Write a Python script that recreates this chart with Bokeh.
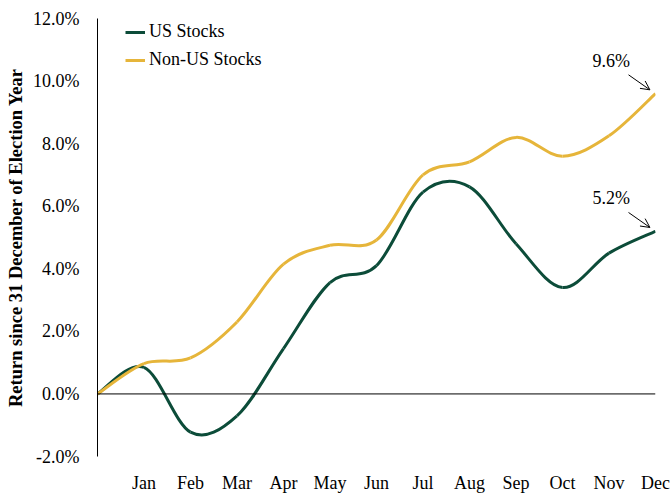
import numpy as np
from bokeh.plotting import figure
from bokeh.models import (ColumnDataSource, Span, Arrow, OpenHead, Label,
                          PrintfTickFormatter, FixedTicker, Range1d)
from bokeh.embed import file_html
from bokeh.resources import INLINE

# ---- data ----
months = ["Jan", "Feb", "Mar", "Apr", "May", "Jun", "Jul", "Aug", "Sep", "Oct", "Nov", "Dec"]
month_pos = list(range(0, 13))  # 0 = 31 December of election year
us_stocks = [0.0, 0.85, -1.22, -0.70, 1.45, 3.56, 4.10, 6.45, 6.62, 4.80, 3.40, 4.50, 5.20]
non_us_stocks = [0.0, 0.97, 1.15, 2.30, 4.15, 4.75, 4.92, 7.00, 7.42, 8.20, 7.60, 8.25, 9.60]
y_ticks = [-2, 0, 2, 4, 6, 8, 10, 12]

GREEN = "#0c4c39"
GOLD = "#e6b53a"
FONT = "Liberation Serif"


def smooth_source(xs, ys):
    """Bezier segments (Catmull-Rom style control points) through the data points."""
    xs = np.asarray(xs, float)
    ys = np.asarray(ys, float)
    n = len(xs)
    d = dict(x0=[], y0=[], x1=[], y1=[], cx0=[], cy0=[], cx1=[], cy1=[])
    for i in range(n - 1):
        im1 = max(i - 1, 0)
        ip2 = min(i + 2, n - 1)
        d["x0"].append(xs[i]); d["y0"].append(ys[i])
        d["x1"].append(xs[i + 1]); d["y1"].append(ys[i + 1])
        d["cx0"].append(xs[i] + (xs[i + 1] - xs[im1]) / 6)
        d["cy0"].append(ys[i] + (ys[i + 1] - ys[im1]) / 6)
        d["cx1"].append(xs[i + 1] - (xs[ip2] - xs[i]) / 6)
        d["cy1"].append(ys[i + 1] - (ys[ip2] - ys[i]) / 6)
    return ColumnDataSource(d)


p = figure(width=670, height=495, output_backend="svg", toolbar_location=None,
           x_range=Range1d(0, 12), y_range=Range1d(-2, 12),
           min_border_left=97, min_border_right=15, min_border_top=18, min_border_bottom=37)
p.outline_line_color = None
p.xgrid.grid_line_color = None
p.ygrid.grid_line_color = None
p.background_fill_color = "white"

# zero line
p.add_layout(Span(location=0, dimension="width", line_color="black", line_width=1))

p.bezier(x0="x0", y0="y0", x1="x1", y1="y1", cx0="cx0", cy0="cy0", cx1="cx1", cy1="cy1",
         source=smooth_source(month_pos, us_stocks), line_color=GREEN, line_width=3,
         legend_label="US Stocks")
p.bezier(x0="x0", y0="y0", x1="x1", y1="y1", cx0="cx0", cy0="cy0", cx1="cx1", cy1="cy1",
         source=smooth_source(month_pos, non_us_stocks), line_color=GOLD, line_width=3,
         legend_label="Non-US Stocks")

# y axis
ya = p.yaxis[0]
ya.ticker = FixedTicker(ticks=y_ticks)
ya.formatter = PrintfTickFormatter(format="%.1f%%")
ya.major_tick_line_color = None
ya.minor_tick_line_color = None
ya.major_tick_out = 0
ya.major_tick_in = 0
ya.major_label_standoff = 18
ya.axis_line_color = "black"
ya.axis_line_width = 1
ya.major_label_text_font = FONT
ya.major_label_text_font_size = "18px"
ya.major_label_text_color = "black"
ya.axis_label = "Return since 31 December of Election Year"
ya.axis_label_text_font = FONT
ya.axis_label_text_font_style = "bold"
ya.axis_label_text_font_size = "18.5px"
ya.axis_label_text_color = "black"
ya.axis_label_standoff = 4

# x axis
xa = p.xaxis[0]
xa.ticker = FixedTicker(ticks=month_pos[1:])
xa.major_label_overrides = {i + 1: m for i, m in enumerate(months)}
xa.axis_line_color = None
xa.major_tick_line_color = None
xa.minor_tick_line_color = None
xa.major_tick_out = 0
xa.major_tick_in = 0
xa.major_label_standoff = 16
xa.major_label_text_font = FONT
xa.major_label_text_font_size = "18px"
xa.major_label_text_color = "black"

# end-value annotations
for series in (non_us_stocks, us_stocks):
    xe, ye = month_pos[-1], series[-1]
    p.add_layout(Label(x=xe - 0.95, y=ye + 1.05, text=f"{ye:.1f}%", text_font=FONT,
                       text_font_size="18px", text_align="center", text_baseline="middle",
                       text_color="black"))
    p.add_layout(Arrow(end=OpenHead(size=9, line_width=1, line_color="black"),
                       x_start=xe - 0.58, y_start=ye + 0.6, x_end=xe - 0.12, y_end=ye + 0.12,
                       line_width=1, line_color="black"))

# legend
lg = p.legend[0]
lg.location = (28, 386)
lg.margin = 0
lg.padding = 0
lg.border_line_color = None
lg.background_fill_alpha = 0
lg.glyph_width = 20
lg.glyph_height = 20
lg.label_height = 20
lg.label_standoff = 4
lg.spacing = 7
lg.label_text_font = FONT
lg.label_text_font_size = "18px"
lg.label_text_color = "black"

open("out.html", "w").write(file_html(p, INLINE))
